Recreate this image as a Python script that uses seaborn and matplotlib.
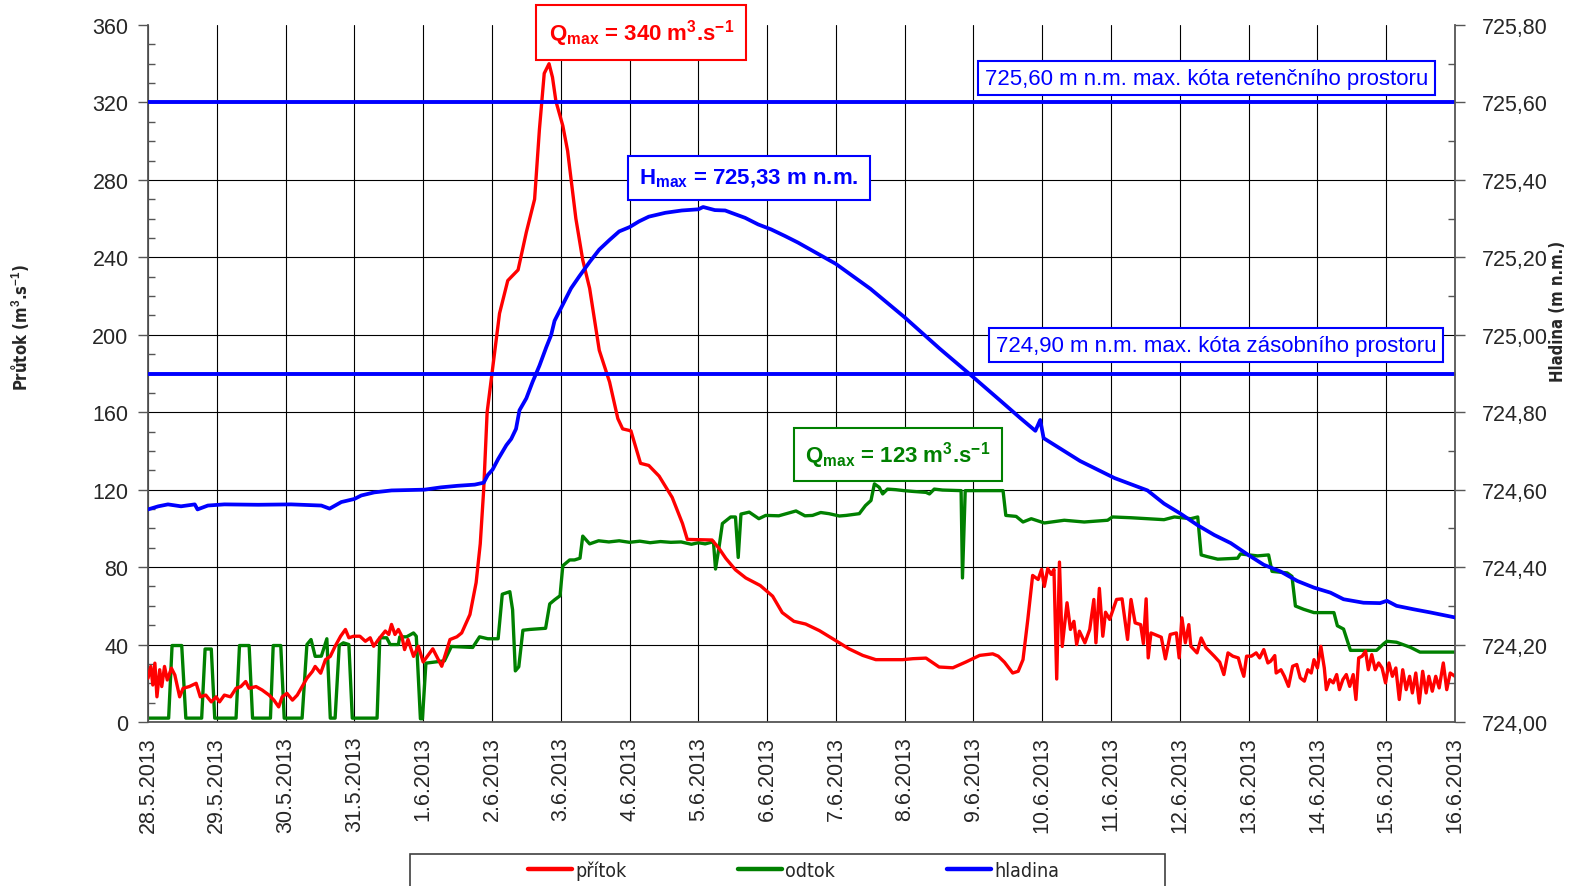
import os
import matplotlib
matplotlib.use("Agg")
import matplotlib.pyplot as plt
from matplotlib import font_manager
from matplotlib.font_manager import FontProperties
from matplotlib.lines import Line2D
from matplotlib.patches import Rectangle
from matplotlib.ticker import MultipleLocator
import pandas as pd
import seaborn as sns

# Time axis: days elapsed since 28.5.2013 00:00
date_labels = ["28.5.2013", "29.5.2013", "30.5.2013", "31.5.2013", "1.6.2013",
               "2.6.2013", "3.6.2013", "4.6.2013", "5.6.2013", "6.6.2013",
               "7.6.2013", "8.6.2013", "9.6.2013", "10.6.2013", "11.6.2013",
               "12.6.2013", "13.6.2013", "14.6.2013", "15.6.2013", "16.6.2013"]
q_ticks = [0, 40, 80, 120, 160, 200, 240, 280, 320, 360]
h_ticks = [724.0, 724.2, 724.4, 724.6, 724.8, 725.0, 725.2, 725.4, 725.6, 725.8]

# Inflow (přítok), m3/s
prit_day = [0.00, 0.04, 0.07, 0.10, 0.13, 0.17, 0.20, 0.24, 0.28, 0.34, 0.39, 0.46, 0.51,
            0.60, 0.70, 0.76, 0.84, 0.92, 0.99, 1.04, 1.11, 1.20, 1.28, 1.35, 1.42, 1.47,
            1.57, 1.66, 1.76, 1.83, 1.90, 1.95, 2.02, 2.10, 2.17, 2.24, 2.31, 2.39, 2.43,
            2.51, 2.58, 2.65, 2.72, 2.80, 2.87, 2.92, 2.99, 3.08, 3.16, 3.23, 3.28, 3.35,
            3.45, 3.50, 3.54, 3.59, 3.64, 3.69, 3.73, 3.78, 3.86, 3.93, 4.00, 4.14, 4.27,
            4.39, 4.49, 4.56, 4.68, 4.77, 4.83, 4.88, 4.93, 5.00, 5.11, 5.23, 5.38, 5.50,
            5.62, 5.69, 5.76, 5.83, 5.88, 5.93, 6.03, 6.10, 6.22, 6.32, 6.42, 6.56, 6.71,
            6.83, 6.90, 7.02, 7.16, 7.28, 7.43, 7.62, 7.77, 7.84, 8.20, 8.30, 8.40, 8.54,
            8.69, 8.90, 9.08, 9.22, 9.39, 9.56, 9.76, 10.00, 10.19, 10.39, 10.58, 10.97,
            11.12, 11.31, 11.50, 11.70, 11.89, 12.09, 12.28, 12.36, 12.45, 12.57, 12.65,
            12.72, 12.79, 12.86, 12.94, 12.99, 13.03, 13.08, 13.13, 13.17, 13.21, 13.25,
            13.29, 13.36, 13.41, 13.46, 13.50, 13.54, 13.62, 13.69, 13.75, 13.78, 13.83,
            13.88, 13.92, 13.98, 14.08, 14.16, 14.24, 14.29, 14.35, 14.43, 14.47, 14.51,
            14.54, 14.58, 14.73, 14.79, 14.86, 14.95, 14.99, 15.03, 15.08, 15.13, 15.16,
            15.25, 15.31, 15.38, 15.50, 15.58, 15.64, 15.70, 15.77, 15.85, 15.89, 15.93,
            15.97, 16.04, 16.11, 16.16, 16.22, 16.28, 16.32, 16.38, 16.40, 16.47, 16.52,
            16.58, 16.64, 16.70, 16.75, 16.81, 16.86, 16.91, 16.95, 17.00, 17.05, 17.10,
            17.13, 17.18, 17.23, 17.28, 17.32, 17.37, 17.42, 17.47, 17.52, 17.56, 17.60,
            17.65, 17.70, 17.74, 17.79, 17.84, 17.89, 17.94, 17.99, 18.04, 18.09, 18.14,
            18.19, 18.24, 18.29, 18.34, 18.38, 18.43, 18.48, 18.53, 18.58, 18.62, 18.67,
            18.72, 18.77, 18.83, 18.88, 18.93, 19.00]
prit_q = [22.6, 28.7, 19.1, 30.4, 13.0, 27.0, 18.3, 28.7, 21.7, 27.8, 24.3, 13.0, 17.4,
          18.3, 20.0, 13.0, 13.9, 10.4, 13.0, 10.4, 13.9, 13.0, 17.4, 18.3, 20.9, 17.4,
          18.3, 16.5, 13.9, 11.3, 7.8, 13.0, 14.8, 11.3, 13.9, 18.3, 22.6, 26.1, 28.7,
          25.2, 32.2, 33.9, 39.1, 44.3, 47.8, 43.5, 44.3, 44.3, 41.7, 43.5, 39.1, 42.6,
          47.0, 45.2, 50.4, 45.2, 47.8, 44.3, 37.4, 42.6, 33.9, 39.1, 31.0, 37.8, 28.8,
          42.6, 44.0, 46.0, 55.5, 72.0, 92.0, 120.0, 160.0, 180.0, 211.0, 228.0, 233.5, 253.0,
          270.0, 306.0, 335.0, 340.0, 333.0, 320.6, 308.0, 295.0, 260.0, 238.6, 224.0, 192.0, 175.6,
          156.7, 151.4, 150.4, 133.6, 132.5, 127.0, 116.0, 102.5, 94.3, 94.0, 89.7, 84.5, 78.6,
          74.4, 70.5, 65.0, 56.5, 52.0, 50.6, 47.2, 42.0, 37.8, 34.4, 32.2, 32.2,
          32.7, 33.0, 28.4, 28.0, 31.0, 34.4, 35.2, 34.0, 30.9, 25.3, 26.2,
          32.2, 53.0, 75.7, 73.6, 78.8, 70.0, 79.3, 76.2, 78.8, 22.2, 82.6,
          39.0, 61.6, 47.8, 52.0, 40.0, 46.9, 40.9, 47.8, 63.3, 40.9, 69.0,
          44.3, 56.7, 53.0, 63.3, 63.6, 42.6, 63.3, 51.2, 50.3, 40.5, 63.6,
          33.1, 46.0, 43.8, 32.6, 45.2, 46.0, 33.1, 53.8, 40.9, 50.3, 39.1,
          35.7, 43.4, 38.3, 34.0, 30.9, 24.5, 35.7, 34.0, 33.1, 27.9, 23.6,
          34.0, 34.0, 35.7, 33.1, 37.4, 30.5, 31.4, 34.3, 25.3, 27.0, 23.6,
          18.4, 28.8, 29.7, 22.8, 21.1, 27.0, 25.3, 32.2, 27.9, 39.1, 27.9,
          16.7, 21.9, 20.2, 24.5, 16.7, 21.9, 24.5, 18.4, 24.5, 11.6, 33.1,
          34.0, 36.6, 27.0, 34.8, 27.0, 30.5, 27.9, 20.2, 30.5, 23.6, 27.9,
          11.6, 27.0, 16.7, 23.6, 15.0, 25.3, 9.8, 26.2, 15.0, 23.6, 15.9,
          23.6, 17.6, 30.5, 16.7, 25.3, 23.6]

# Outflow (odtok), m3/s
odt_day = [0.00, 0.30, 0.35, 0.49, 0.55, 0.78, 0.83, 0.92, 0.97, 1.28, 1.33, 1.47, 1.52,
           1.78, 1.82, 1.93, 1.98, 2.24, 2.31, 2.37, 2.43, 2.52, 2.60, 2.65, 2.72, 2.78,
           2.84, 2.92, 2.97, 3.33, 3.37, 3.47, 3.52, 3.64, 3.66, 3.76, 3.86, 3.90, 3.96,
           3.99, 4.04, 4.31, 4.41, 4.72, 4.82, 4.94, 5.09, 5.15, 5.26, 5.30, 5.34, 5.39,
           5.45, 5.55, 5.78, 5.84, 5.91, 5.99, 6.03, 6.13, 6.20, 6.28, 6.32, 6.42, 6.55,
           6.70, 6.85, 7.00, 7.15, 7.30, 7.45, 7.60, 7.75, 7.90, 8.00, 8.10, 8.22, 8.25,
           8.30, 8.35, 8.47, 8.54, 8.58, 8.62, 8.74, 8.88, 8.98, 9.17, 9.30, 9.42, 9.55,
           9.66, 9.78, 9.90, 10.05, 10.15, 10.34, 10.43, 10.51, 10.56, 10.63, 10.68, 10.75,
           10.87, 10.99, 11.12, 11.31, 11.36, 11.43, 11.55, 11.82, 11.84, 11.88, 12.43,
           12.47, 12.62, 12.72, 12.84, 13.03, 13.32, 13.61, 13.95, 14.02, 14.29, 14.53,
           14.77, 14.92, 15.16, 15.26, 15.31, 15.40, 15.55, 15.84, 15.88, 16.13, 16.29,
           16.34, 16.56, 16.63, 16.68, 16.80, 16.95, 17.24, 17.29, 17.38, 17.48, 17.86,
           17.96, 18.01, 18.15, 18.35, 18.49, 19.00]
odt_q = [2.0, 2.0, 39.5, 39.5, 2.0, 2.0, 37.7, 37.7, 2.0, 2.0, 39.5, 39.5, 2.0,
         2.0, 39.5, 39.5, 2.0, 2.0, 40.0, 42.6, 33.9, 34.0, 43.0, 2.0, 2.0, 39.5,
         40.9, 40.0, 2.0, 2.0, 43.5, 43.5, 40.0, 40.0, 44.0, 44.0, 46.0, 44.3, 1.7,
         1.7, 30.4, 31.6, 39.0, 38.5, 44.0, 43.0, 43.0, 66.0, 67.3, 58.0, 26.4, 28.5,
         47.4, 47.8, 48.4, 61.0, 63.1, 65.2, 80.7, 83.7, 83.7, 84.6, 96.0, 92.0, 93.6,
         93.0, 93.6, 92.8, 93.4, 92.6, 93.2, 92.8, 93.0, 91.8, 92.6, 92.0, 93.1, 79.0,
         90.0, 102.5, 105.9, 105.9, 85.0, 107.4, 108.4, 105.0, 106.7, 106.5, 107.8, 109.0, 106.5,
         106.7, 108.2, 107.6, 106.4, 106.7, 107.6, 111.8, 114.4, 123.0, 121.2, 117.8, 120.3,
         120.0, 119.5, 119.1, 118.6, 117.8, 120.3, 119.8, 119.5, 74.4, 119.5, 119.5,
         106.7, 106.2, 103.3, 105.0, 102.8, 104.2, 103.3, 104.2, 105.9, 105.5, 105.0,
         104.5, 105.9, 105.0, 105.9, 86.3, 85.4, 84.1, 84.6, 86.8, 85.8, 86.3,
         77.8, 77.0, 75.2, 59.9, 58.2, 56.5, 56.5, 49.7, 48.0, 37.0, 37.0,
         40.3, 41.7, 41.2, 38.6, 36.1, 36.1]

# Reservoir water level (hladina), m n.m.
hlad_day = [0.00, 0.15, 0.29, 0.48, 0.68, 0.72, 0.87, 1.11, 1.60, 2.08, 2.52, 2.64, 2.81,
            3.00, 3.10, 3.29, 3.54, 3.78, 4.02, 4.26, 4.50, 4.75, 4.88, 4.94, 5.01, 5.09,
            5.21, 5.28, 5.35, 5.40, 5.50, 5.59, 5.69, 5.79, 5.86, 5.91, 6.03, 6.15, 6.27,
            6.42, 6.56, 6.71, 6.85, 7.00, 7.14, 7.28, 7.52, 7.76, 8.00, 8.07, 8.24, 8.39,
            8.48, 8.68, 8.87, 9.06, 9.26, 9.45, 10.00, 10.50, 11.00, 11.51, 12.00, 12.39,
            12.68, 12.90, 12.97, 13.02, 13.55, 14.05, 14.53, 14.77, 15.01, 15.26, 15.50,
            15.74, 15.99, 16.22, 16.46, 16.71, 16.95, 17.19, 17.38, 17.67, 17.91, 18.01,
            18.15, 18.40, 18.64, 19.00]
hlad_h = [724.549, 724.557, 724.562, 724.557, 724.562, 724.549, 724.559, 724.562, 724.561,
          724.562, 724.559, 724.551, 724.568, 724.576, 724.585, 724.593, 724.598, 724.599,
          724.600, 724.606, 724.610, 724.613, 724.618, 724.638, 724.652, 724.679, 724.715,
          724.731, 724.757, 724.805, 724.836, 724.878, 724.920, 724.968, 724.999, 725.036,
          725.078, 725.120, 725.151, 725.188, 725.220, 725.245, 725.267, 725.278, 725.293,
          725.305, 725.315, 725.321, 725.324, 725.330, 725.322, 725.321, 725.315, 725.302,
          725.285, 725.272, 725.255, 725.238, 725.183, 725.119, 725.045, 724.964, 724.890,
          724.830, 724.785, 724.752, 724.780, 724.733, 724.674, 724.630, 724.598, 724.564,
          724.538, 724.508, 724.483, 724.462, 724.432, 724.406, 724.389, 724.364, 724.347,
          724.334, 724.317, 724.308, 724.307, 724.313, 724.300, 724.291, 724.283, 724.270]

# Reference levels and peak values
h_retention = 725.60
h_storage = 724.90
q_in_max = 340
q_out_max = 123
h_max = 725.33

RED, GREEN, BLUE = "#FF0000", "#008000", "#0000FF"

sns.set_style("white")
plt.rcParams["font.family"] = ["Liberation Sans", "DejaVu Sans"]
plt.rcParams["mathtext.fontset"] = "custom"
plt.rcParams["mathtext.rm"] = "Liberation Sans"
plt.rcParams["mathtext.bf"] = "Liberation Sans:bold"
plt.rcParams["mathtext.it"] = "Liberation Sans:italic"


def find_font(*patterns):
    for pat in patterns:
        for f in font_manager.fontManager.ttflist:
            if os.path.basename(f.fname).lower().startswith(pat.lower()):
                return f.fname
    return None


# Condensed faces for the axis titles and the legend
bold_file = find_font("LiberationSansNarrow-Bold.", "DejaVuSansCondensed-Bold.")
reg_file = find_font("LiberationSansNarrow-Regular.", "DejaVuSansCondensed.")
if bold_file:
    size = 14 if "Narrow" in bold_file else 12
    label_font = FontProperties(fname=bold_file, size=size)
else:
    label_font = FontProperties(family="Liberation Sans", weight="bold", size=11.5)
if reg_file:
    size = 16 if "Narrow" in reg_file else 14
    legend_font = FontProperties(fname=reg_file, size=size)
else:
    legend_font = FontProperties(family="Liberation Sans", size=14)


def comma(v, nd=2):
    return f"{v:.{nd}f}".replace(".", ",")


prit = pd.DataFrame({"den": prit_day, "Q": prit_q})
odt = pd.DataFrame({"den": odt_day, "Q": odt_q})
hlad = pd.DataFrame({"den": hlad_day, "H": hlad_h})

fig = plt.figure(figsize=(15.71, 8.87), dpi=100)
ax = fig.add_axes([148 / 1571, 1 - 723 / 887, 1307 / 1571, 697 / 887])

sns.lineplot(data=odt, x="den", y="Q", ax=ax, color=GREEN, linewidth=2.4,
             estimator=None, sort=False, zorder=2)
sns.lineplot(data=prit, x="den", y="Q", ax=ax, color=RED, linewidth=2.4,
             estimator=None, sort=False, zorder=3)

ax.set_xlim(0, len(date_labels) - 1)
ax.set_ylim(q_ticks[0], q_ticks[-1])
ax.set_xticks(range(len(date_labels)))
ax.set_xticklabels(date_labels, rotation=90)
ax.set_yticks(q_ticks)
ax.set_yticklabels([str(v) for v in q_ticks])
ax.yaxis.set_minor_locator(MultipleLocator(10))
ax.grid(True, which="major", color="black", linewidth=0.8)
ax.set_axisbelow(True)
# no gridline along the top edge of the plot area
ax.yaxis.get_major_ticks()[-1].gridline.set_visible(False)
ax.tick_params(axis="x", which="major", direction="out", length=7, width=1,
               color="#555555", pad=3, labelsize=15.5)
ax.tick_params(axis="y", which="major", direction="out", length=7, width=1,
               color="#555555", pad=7, labelsize=15.5)
ax.tick_params(axis="y", which="minor", direction="in", length=5, width=1, color="#555555")
for side in ("left", "bottom"):
    ax.spines[side].set_color("#555555")
    ax.spines[side].set_linewidth(1.3)
ax.spines["top"].set_visible(False)
ax.spines["right"].set_visible(False)
ax.set_xlabel("")
ax.set_ylabel("Průtok (m$^{\\mathbf{3}}$.s$^{\\mathbf{-1}}$)", fontproperties=label_font)
ax.yaxis.set_label_coords(-0.0895, 0.568)

ax2 = ax.twinx()
sns.lineplot(data=hlad, x="den", y="H", ax=ax2, color=BLUE, linewidth=2.7,
             estimator=None, sort=False, zorder=3)
ax2.axhline(h_retention, color=BLUE, linewidth=2.8, zorder=2)
ax2.axhline(h_storage, color=BLUE, linewidth=2.8, zorder=2)
ax2.set_ylim(h_ticks[0], h_ticks[-1])
ax2.set_yticks(h_ticks)
ax2.set_yticklabels([comma(v) for v in h_ticks])
ax2.yaxis.set_minor_locator(MultipleLocator(0.1))
ax2.tick_params(axis="y", which="major", direction="out", length=7, width=1,
                color="#555555", pad=12, labelsize=15.5)
ax2.tick_params(axis="y", which="minor", direction="in", length=5, width=1, color="#555555")
for side in ("left", "top", "bottom"):
    ax2.spines[side].set_visible(False)
ax2.spines["right"].set_color("#555555")
ax2.spines["right"].set_linewidth(1.3)
ax2.set_xlabel("")
ax2.set_ylabel("Hladina (m n.m.)", fontproperties=label_font)
ax2.yaxis.set_label_coords(1.072, 0.59)


# Annotation boxes
def note(x, y, s, color, bold, pad):
    ax2.text(x, y, s, transform=ax.transData, ha="center", va="center", color=color,
             fontsize=16, fontweight="bold" if bold else "normal", zorder=10, clip_on=False,
             bbox=dict(boxstyle=f"square,pad={pad}", fc="white", ec=color, lw=1.5))


note(7.17, 356.0, rf"$\mathbf{{Q}}_{{\mathbf{{max}}}}$ = {q_in_max} m$^{{\mathbf{{3}}}}$.s$^{{\mathbf{{-1}}}}$",
     RED, True, 0.55)
note(8.74, 281.0, rf"$\mathbf{{H}}_{{\mathbf{{max}}}}$ = {comma(h_max)} m n.m.", BLUE, True, 0.5)
note(10.90, 138.2, rf"$\mathbf{{Q}}_{{\mathbf{{max}}}}$ = {q_out_max} m$^{{\mathbf{{3}}}}$.s$^{{\mathbf{{-1}}}}$",
     GREEN, True, 0.5)
note(15.39, 332.6, f"{comma(h_retention)} m n.m. max. kóta retenčního prostoru", BLUE, False, 0.3)
note(15.53, 194.7, f"{comma(h_storage)} m n.m. max. kóta zásobního prostoru", BLUE, False, 0.3)

# Legend strip along the bottom edge
handles = [Line2D([], [], color=RED, linewidth=3.2),
           Line2D([], [], color=GREEN, linewidth=3.2),
           Line2D([], [], color=BLUE, linewidth=3.2)]
em = legend_font.get_size_in_points() * 100 / 72
fig.legend(handles, ["přítok", "odtok", "hladina"], loc="center left",
           bbox_to_anchor=(528 / 1571, 1 - 871 / 887), ncol=3, frameon=False,
           prop=legend_font, handlelength=44 / em, borderpad=0, borderaxespad=0,
           handletextpad=3 / em, columnspacing=112 / em)
fig.add_artist(Rectangle((410 / 1571, -0.05), 755 / 1571, 0.05 + 32 / 887,
                         transform=fig.transFigure, fill=False, ec="#404040", lw=1.2))

fig.savefig("out.png", dpi=100)
